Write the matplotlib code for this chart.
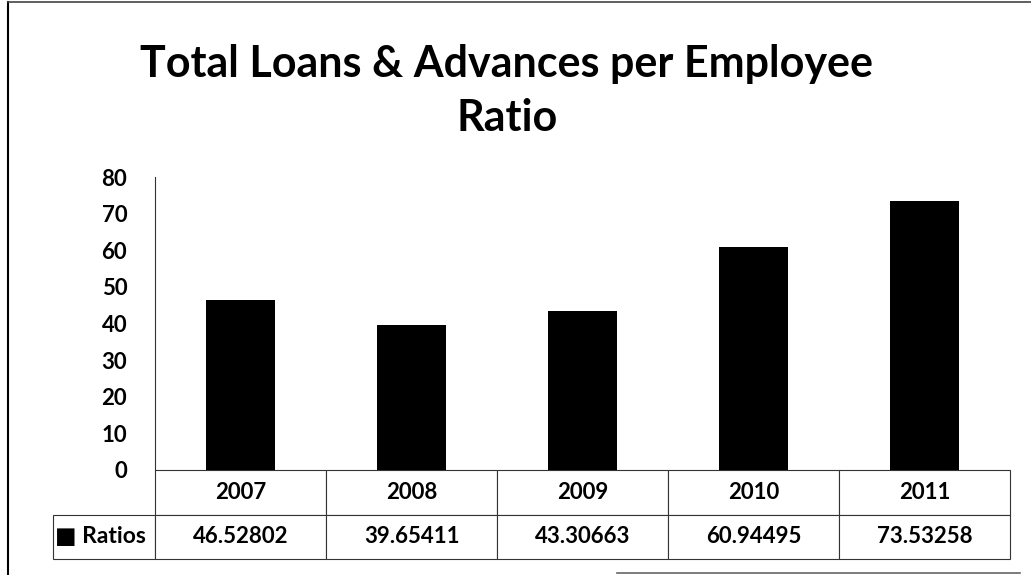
import matplotlib.pyplot as plt
from matplotlib.lines import Line2D

plt.rcParams['font.family'] = ['Lato', 'DejaVu Sans']
plt.rcParams['font.weight'] = 'bold'

# data
years = ['2007', '2008', '2009', '2010', '2011']
ratios = [46.52802, 39.65411, 43.30663, 60.94495, 73.53258]
series_name = 'Ratios'
title = 'Total Loans & Advances per Employee\nRatio'

W, H = 1031, 575
fig = plt.figure(figsize=(W / 100, H / 100), dpi=100)
fig.patch.set_facecolor('white')

# plot area in pixel terms
left, right, top, zero = 155, 1010, 177, 470
ax = fig.add_axes([left / W, 1 - zero / H, (right - left) / W, (zero - top) / H])

x = list(range(len(years)))
ax.bar(x, ratios, width=0.40, color='black')
ax.set_xlim(-0.5, len(years) - 0.5)
ax.set_ylim(0, 80)
ax.set_yticks(range(0, 81, 10))
ax.tick_params(axis='y', length=0, pad=20, labelsize=16)
ax.set_xticks([])
for s in ['top', 'right', 'bottom']:
    ax.spines[s].set_visible(False)
ax.spines['left'].set_linewidth(0.8)
ax.spines['left'].set_color('#333333')

# data table under the plot
label_w = left - 53
tbl_h = 89
ax_w = right - left
ax_h = zero - top
cell_text = [[''] + years,
             ['\u25a0 ' + series_name] + [f'{v:.5f}' for v in ratios]]
col_widths = [label_w] + [ax_w / len(years)] * len(years)
tbl = ax.table(cellText=cell_text, colWidths=col_widths, cellLoc='center',
               bbox=[-label_w / ax_w, -tbl_h / ax_h, (ax_w + label_w) / ax_w, tbl_h / ax_h])
tbl.auto_set_font_size(False)
for (r, c), cell in tbl.get_celld().items():
    cell.set_fontsize(16)
    cell.set_linewidth(0.8)
    cell.set_edgecolor('#333333')
    cell.get_text().set_fontweight('bold')
    if r == 0 and c == 0:
        cell.visible_edges = ''
    if r == 1 and c == 0:
        cell.get_text().set_horizontalalignment('left')
        cell.get_text().set_fontsize(16.5)
        cell.PAD = 0.02

fig.text(507 / W, 1 - 91 / H, title, ha='center', va='center',
         fontsize=31, fontweight='bold', linespacing=1.4)

# outer frame
fig.add_artist(Line2D([8 / W, 8 / W], [0, 1 - 2 / H], color='black', lw=1.5))
fig.add_artist(Line2D([8 / W, 1], [1 - 2 / H, 1 - 2 / H], color='#444444', lw=1.2))
fig.add_artist(Line2D([617 / W, 1020 / W], [1 - 573 / H, 1 - 573 / H], color='#666666', lw=1.2))

fig.savefig('out.png', dpi=100)
